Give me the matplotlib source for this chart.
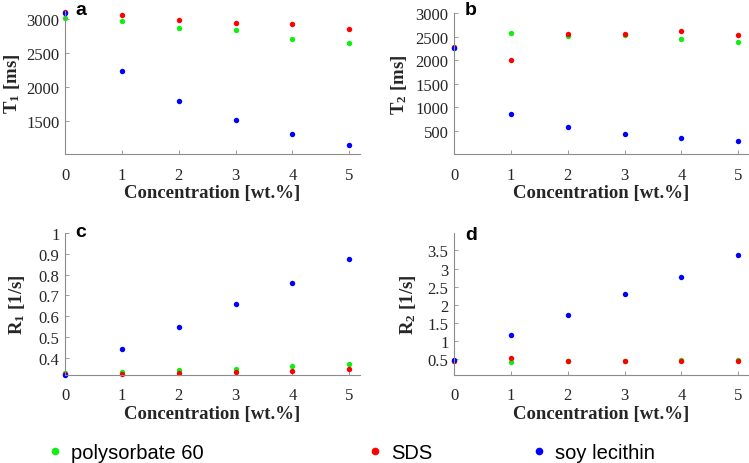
import matplotlib
matplotlib.use('Agg')
import matplotlib.pyplot as plt
from matplotlib.lines import Line2D

# 数据
conc = [0, 1, 2, 3, 4, 5]
series_names = ['polysorbate 60', 'SDS', 'soy lecithin']
series_colors = ['#11ee11', '#ff0000', '#0000ff']

t1_poly = [3020, 2975, 2868, 2833, 2711, 2652]
t1_sds = [3107, 3054, 2985, 2941, 2922, 2848]
t1_soy = [3088, 2235, 1799, 1510, 1313, 1147]

t2_poly = [2250, 2576, 2513, 2534, 2449, 2392]
t2_sds = [2286, 2004, 2549, 2555, 2619, 2534]
t2_soy = [2252, 867, 585, 428, 358, 288]

r1_poly = [0.328, 0.331, 0.344, 0.349, 0.363, 0.371]
r1_sds = [0.322, 0.322, 0.329, 0.334, 0.337, 0.345]
r1_soy = [0.318, 0.442, 0.550, 0.658, 0.759, 0.876]

r2_poly = [0.46, 0.434, 0.44, 0.45, 0.472, 0.48]
r2_sds = [0.46, 0.544, 0.445, 0.445, 0.44, 0.445]
r2_soy = [0.47, 1.177, 1.72, 2.30, 2.76, 3.37]

t1_ticks = [1500, 2000, 2500, 3000]
t2_ticks = [500, 1000, 1500, 2000, 2500, 3000]
r1_ticks = [0.4, 0.5, 0.6, 0.7, 0.8, 0.9, 1.0]
r2_ticks = [0.5, 1.0, 1.5, 2.0, 2.5, 3.0, 3.5]

plt.rcParams['mathtext.fontset'] = 'custom'
plt.rcParams['mathtext.rm'] = 'Liberation Serif'
plt.rcParams['mathtext.bf'] = 'Liberation Serif:bold'

W, H = 749, 464
fig = plt.figure(figsize=(W / 100, H / 100), dpi=100)


def box(l, t, r, b):
    # 像素坐标 -> figure 比例
    return [l / W, 1 - b / H, (r - l) / W, (b - t) / H]


panels = [
    # (位置, 数据, ylim, yticks, ylabel, 标签x, 字母, 字母位置)
    (box(65, 12, 360, 155), (t1_poly, t1_sds, t1_soy), (1015, 3120), t1_ticks,
     r'$\mathbf{T_1}$ [ms]', -0.145, 'a', (75, 15)),
    (box(454, 14, 749, 155), (t2_poly, t2_sds, t2_soy), (13, 3000), t2_ticks,
     r'$\mathbf{T_2}$ [ms]', -0.153, 'b', (465, 15)),
    (box(65, 234, 360, 376), (r1_poly, r1_sds, r1_soy), (0.318, 1.0), r1_ticks,
     r'$\mathbf{R_1}$ [1/s]', -0.129, 'c', (75, 237)),
    (box(454, 234, 749, 376), (r2_poly, r2_sds, r2_soy), (0.068, 3.98), r2_ticks,
     r'$\mathbf{R_2}$ [1/s]', -0.122, 'd', (465, 240)),
]

axis_gray = '#8c8c8c'
text_col = '#262626'

for pos, data, ylim, yticks, ylabel, lx, letter, lpos in panels:
    ax = fig.add_axes(pos)
    for vals, col in zip(data, series_colors):
        ax.plot(conc, vals, 'o', color=col, markersize=3.9, markeredgewidth=0,
                clip_on=False)
    ax.set_xlim(0, 5.19)
    ax.set_ylim(*ylim)
    ax.set_xticks(conc)
    ax.set_yticks(yticks, ['%g' % v for v in yticks])
    for s in ['top', 'right']:
        ax.spines[s].set_visible(False)
    for s in ['left', 'bottom']:
        ax.spines[s].set_color(axis_gray)
        ax.spines[s].set_linewidth(0.8)
    ax.tick_params(direction='in', length=3, width=0.6, color=axis_gray,
                   labelsize=12, labelcolor=text_col)
    ax.tick_params(axis='x', pad=9)
    ax.tick_params(axis='y', pad=4)
    for t in ax.get_xticklabels() + ax.get_yticklabels():
        t.set_family('Liberation Serif')
    ax.set_xlabel('Concentration [wt.%]', family='Liberation Serif',
                  fontweight='bold', fontsize=13.5, color=text_col, labelpad=1)
    ax.set_ylabel(ylabel, family='Liberation Serif', fontweight='bold',
                  fontsize=13.5, color=text_col)
    ax.yaxis.set_label_coords(lx, 0.5)
    fig.text(lpos[0] / W, 1 - lpos[1] / H, letter, family='Liberation Sans',
             fontweight='bold', fontsize=14, va='baseline', ha='left')

# 图例(三个独立位置)
legend_x = [49, 369, 533]
for name, col, lx in zip(series_names, series_colors, legend_x):
    h = Line2D([], [], linestyle='none', marker='o', color=col,
               markersize=5.5, markeredgewidth=0)
    fig.legend([h], [name], loc='center left',
               bbox_to_anchor=(lx / W, 1 - 454 / H), frameon=False,
               handlelength=0.6, handletextpad=0.5, borderpad=0,
               borderaxespad=0, prop={'family': 'Liberation Sans', 'size': 14.5})

plt.savefig('out.png', dpi=100)
